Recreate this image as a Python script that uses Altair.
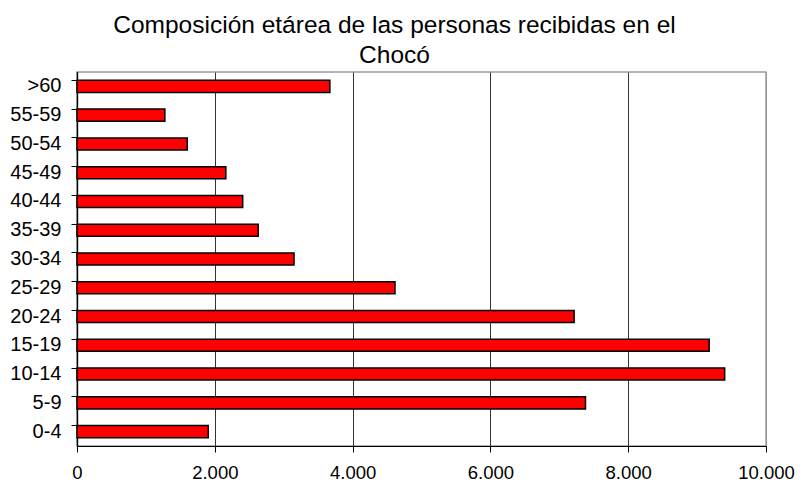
import altair as alt
import pandas as pd

categories = [">60", "55-59", "50-54", "45-49", "40-44", "35-39", "30-34",
              "25-29", "20-24", "15-19", "10-14", "5-9", "0-4"]
values = [3670, 1275, 1600, 2160, 2405, 2630, 3150,
          4615, 7215, 9175, 9400, 7380, 1905]
x_ticks = [0, 2000, 4000, 6000, 8000, 10000]
title_lines = ["Composición etárea de las personas recibidas en el", "Chocó"]

df = pd.DataFrame({"edad": categories, "personas": values})

FONT = "Liberation Sans"

y_scale = alt.Scale(domain=categories, paddingInner=0.58, paddingOuter=0.29)
x_scale = alt.Scale(domain=[0, 10000], nice=False, zero=True)

x_axis = alt.Axis(
    values=x_ticks,
    title=None,
    labelExpr="replace(format(datum.value, ','), ',', '.')",
    labelFont=FONT, labelFontSize=18.5, labelColor="black",
    labelPadding=11, tickSize=6, tickColor="black",
    domainColor="black", domainWidth=1.2,
    grid=True,
    gridColor=alt.condition(alt.datum.value == 10000, alt.value("#999999"), alt.value("#333333")),
    gridWidth=1,
    labelFlush=False,
)

bars = alt.Chart(df).mark_bar(
    color="#FF0000", stroke="black", strokeWidth=1.5
).encode(
    x=alt.X("personas:Q", scale=x_scale, axis=x_axis),
    y=alt.Y("edad:N", scale=y_scale, sort=categories,
            axis=alt.Axis(title=None, orient="left", ticks=False, tickSize=0,
                          labelPadding=16, labelFont=FONT, labelFontSize=20,
                          labelColor="black", domainColor="black", domainWidth=1.2)),
)

tick_layer = alt.Chart(df).mark_bar(opacity=0).encode(
    x=alt.X("personas:Q", scale=x_scale, axis=x_axis),
    y=alt.Y("edad:N", scale=y_scale, sort=categories,
            axis=alt.Axis(title=None, orient="left", labels=False, ticks=True,
                          bandPosition=0, tickSize=6, tickColor="black",
                          domainColor="black", domainWidth=1.2)),
)

chart = alt.layer(bars, tick_layer).resolve_axis(y="independent").properties(
    width=689,
    height=374,
    autosize=alt.AutoSizeParams(type="none"),
    padding={"left": 69, "top": 64, "right": 29, "bottom": 36},
    title=alt.TitleParams(
        text=title_lines, font=FONT, fontSize=24.5, fontWeight="normal",
        color="black", anchor="middle", dx=-27, lineHeight=30, offset=4,
    ),
).configure_view(stroke="#999999", strokeWidth=1.5)

chart.save("out.html", embed_options={"renderer": "svg", "actions": False})
